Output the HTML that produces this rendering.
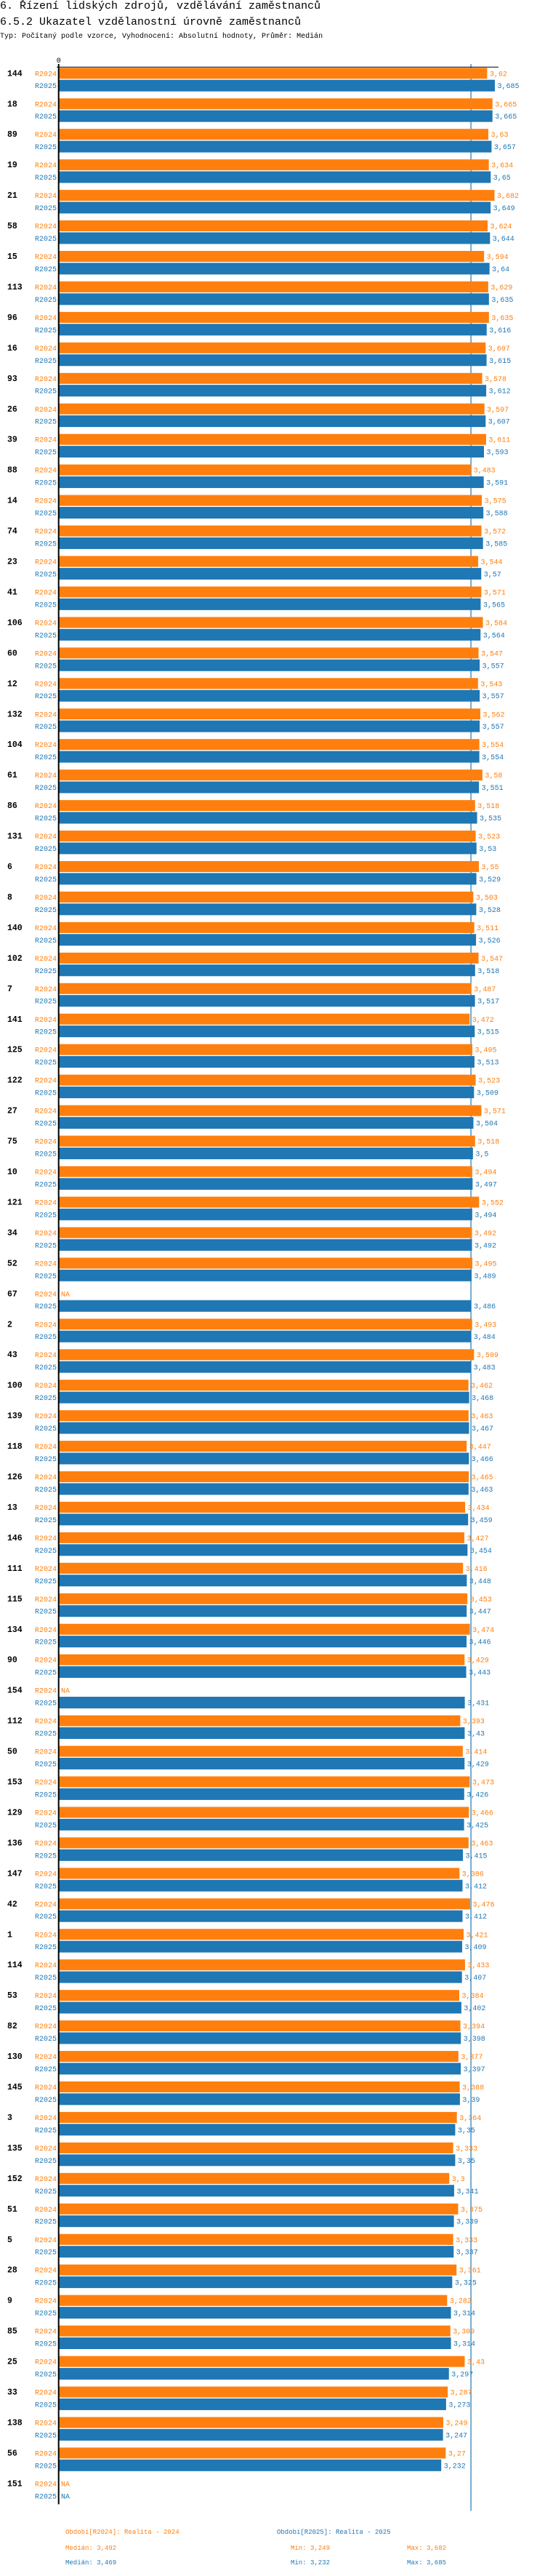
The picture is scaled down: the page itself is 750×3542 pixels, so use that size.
<!DOCTYPE html>
<html><head><meta charset="utf-8">
<style>
html,body{margin:0;padding:0;background:#fff;}
body{width:750px;height:3542px;position:relative;overflow:hidden;font-family:"Liberation Mono","DejaVu Sans Mono",monospace;}
.t{position:absolute;white-space:nowrap;color:#000;}
svg{position:absolute;left:0;top:0;}
svg text{font-family:"Liberation Mono","DejaVu Sans Mono",monospace;}
</style></head><body>
<div class="t" style="left:0;top:0;font-size:15px;">6. Řízení lidských zdrojů, vzdělávání zaměstnanců</div>
<div class="t" style="left:0;top:22px;font-size:15px;">6.5.2 Ukazatel vzdělanostní úrovně zaměstnanců</div>
<div class="t" style="left:0;top:45px;font-size:10px;">Typ: Počítaný podle vzorce, Vyhodnocení: Absolutní hodnoty, Průměr: Medián</div>
<svg id="chart" width="750" height="3542"></svg>
<script>
const categories=["144","18","89","19","21","58","15","113","96","16","93","26","39","88","14","74","23","41","106","60","12","132","104","61","86","131","6","8","140","102","7","141","125","122","27","75","10","121","34","52","67","2","43","100","139","118","126","13","146","111","115","134","90","154","112","50","153","129","136","147","42","1","114","53","82","130","145","3","135","152","51","5","28","9","85","25","33","138","56","151"];
const values2024=[3.62,3.665,3.63,3.634,3.682,3.624,3.594,3.629,3.635,3.607,3.578,3.597,3.611,3.483,3.575,3.572,3.544,3.571,3.584,3.547,3.543,3.562,3.554,3.58,3.518,3.523,3.55,3.503,3.511,3.547,3.487,3.472,3.495,3.523,3.571,3.518,3.494,3.552,3.492,3.495,null,3.493,3.509,3.462,3.463,3.447,3.465,3.434,3.427,3.416,3.453,3.474,3.429,null,3.393,3.414,3.473,3.466,3.463,3.386,3.476,3.421,3.433,3.384,3.394,3.377,3.388,3.364,3.333,3.3,3.375,3.333,3.361,3.282,3.309,3.43,3.287,3.249,3.27,null];
const values2025=[3.685,3.665,3.657,3.65,3.649,3.644,3.64,3.635,3.616,3.615,3.612,3.607,3.593,3.591,3.588,3.585,3.57,3.565,3.564,3.557,3.557,3.557,3.554,3.551,3.535,3.53,3.529,3.528,3.526,3.518,3.517,3.515,3.513,3.509,3.504,3.5,3.497,3.494,3.492,3.489,3.486,3.484,3.483,3.468,3.467,3.466,3.463,3.459,3.454,3.448,3.447,3.446,3.443,3.431,3.43,3.429,3.426,3.425,3.415,3.412,3.412,3.409,3.407,3.402,3.398,3.397,3.39,3.35,3.35,3.341,3.339,3.337,3.325,3.314,3.314,3.297,3.273,3.247,3.232,null];
const seriesNames=["R2024","R2025"];
const medianLineValue=3.483;
const axisTicks=[0];

const NS="http://www.w3.org/2000/svg";
const svg=document.getElementById("chart");
const X0=80.7, SCALE=162.9, TOP=93.3, PITCH=41.95;
const COLORS=["#ff7f0e","#1f77b4"];
function xs(v){return X0+v*SCALE;}
function gy(i){return TOP+i*PITCH;}
function mk(tag,attrs){const e=document.createElementNS(NS,tag);for(const k in attrs)e.setAttribute(k,attrs[k]);svg.appendChild(e);return e;}
function fmt(v){return String(v).replace(".",",");}
const lastY=gy(categories.length-1)+36;

const ml=mk("line",{x1:xs(medianLineValue),x2:xs(medianLineValue),y1:88,y2:lastY+9,stroke:"#1f77b4","stroke-width":1.2});



categories.forEach((c,i)=>{
  const top=gy(i);
  const cl=mk("text",{x:10,y:top+11,"font-size":"11.5","font-weight":"bold",fill:"#000"});
  cl.textContent=c;
  
  
  [values2024,values2025].forEach((arr,s)=>{
    const v=arr[i];
    const by=s===0?top:top+16.4;
    const bh=s===0?15:16;
    const sl=mk("text",{x:78,y:by+bh/2+3.5,"font-size":"10","text-anchor":"end",fill:COLORS[s]});
    sl.textContent=seriesNames[s];
    
    
    if(v===null){
      const na=mk("text",{x:84,y:by+bh/2+3.5,"font-size":"10",fill:COLORS[s]});
      na.textContent="NA";
      
      
      return;
    }
    const r=mk("rect",{x:X0,y:by,width:xs(v)-X0,height:bh,fill:COLORS[s]});
    
    
    const vl=mk("text",{x:xs(v)+3.5,y:by+bh/2+3.5,"font-size":"10",fill:COLORS[s]});
    vl.textContent=fmt(v);
    
    
  });
});

const ax=mk("line",{x1:78,x2:686,y1:92.3,y2:92.3,stroke:"#000","stroke-width":1});


const zl=mk("line",{x1:X0,x2:X0,y1:88,y2:lastY,stroke:"#000","stroke-width":2});


axisTicks.forEach(t=>{
  const tl=mk("text",{x:xs(t),y:86,"font-size":"10","text-anchor":"middle",fill:"#000"});
  tl.textContent=String(t);
  
  
});
</script>
<div class="t" style="left:90px;top:3477px;font-size:9px;color:#ff7f0e;">Období[R2024]: Realita - 2024</div>
<div class="t" style="left:381px;top:3477px;font-size:9px;color:#1f77b4;">Období[R2025]: Realita - 2025</div>
<div class="t" style="left:90px;top:3499px;font-size:9px;color:#ff7f0e;">Medián: 3,492</div>
<div class="t" style="left:400px;top:3499px;font-size:9px;color:#ff7f0e;">Min: 3,249</div>
<div class="t" style="left:560px;top:3499px;font-size:9px;color:#ff7f0e;">Max: 3,682</div>
<div class="t" style="left:90px;top:3519px;font-size:9px;color:#1f77b4;">Medián: 3,469</div>
<div class="t" style="left:400px;top:3519px;font-size:9px;color:#1f77b4;">Min: 3,232</div>
<div class="t" style="left:560px;top:3519px;font-size:9px;color:#1f77b4;">Max: 3,685</div>
</body></html>
